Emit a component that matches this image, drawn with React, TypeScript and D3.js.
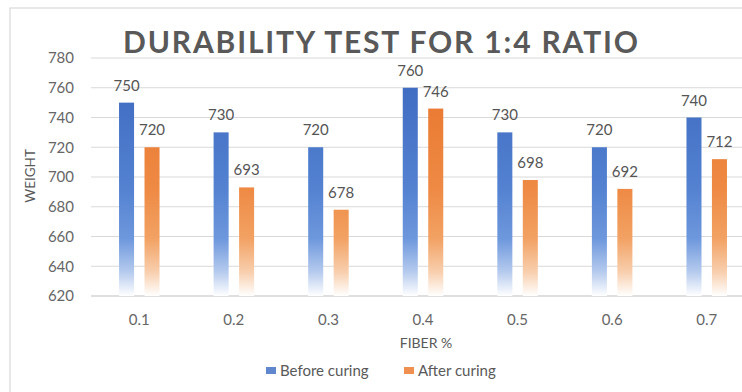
import React from "react";
import * as d3 from "d3";

const categories = ["0.1", "0.2", "0.3", "0.4", "0.5", "0.6", "0.7"];
const seriesNames = ["Before curing", "After curing"];
const beforeCuring = [750, 730, 720, 760, 730, 720, 740];
const afterCuring = [720, 693, 678, 746, 698, 692, 712];
const yTicks = [620, 640, 660, 680, 700, 720, 740, 760, 780];

const W = 742;
const H = 392;
const FONT = "Lato, 'Open Sans', sans-serif";

export default function App() {
  const y = d3.scaleLinear().domain([620, 780]).range([296, 58]);
  const x0 = d3.scaleBand<string>().domain(categories).range([92, 754]).padding(0);
  const bw = x0.bandwidth();
  const groupW = 40.5;
  const x1 = d3
    .scaleBand<number>()
    .domain([0, 1])
    .range([(bw - groupW) / 2, (bw + groupW) / 2])
    .paddingInner(0.41);
  const series = [beforeCuring, afterCuring];
  const gradIds = ["gBlue", "gOrange"];
  const legendColors = ["#4472C4", "#ED7D31"];

  return (
    <svg
      width={W}
      height={H}
      style={{ position: "absolute", left: 0, top: 0, background: "#fff" }}
      fontFamily={FONT}
    >
      <defs>
        <linearGradient id="gBlue" gradientUnits="userSpaceOnUse" x1="0" y1={y(780)} x2="0" y2={y(620)}>
          <stop offset="0" stopColor="#3A66BD" />
          <stop offset="0.55" stopColor="#5482D1" />
          <stop offset="0.76" stopColor="#6E98DD" />
          <stop offset="0.9" stopColor="#B6CBEE" />
          <stop offset="1" stopColor="#FFFFFF" />
        </linearGradient>
        <linearGradient id="gOrange" gradientUnits="userSpaceOnUse" x1="0" y1={y(780)} x2="0" y2={y(620)}>
          <stop offset="0" stopColor="#E8722A" />
          <stop offset="0.55" stopColor="#EE8A44" />
          <stop offset="0.76" stopColor="#F2A264" />
          <stop offset="0.9" stopColor="#F8CFAE" />
          <stop offset="1" stopColor="#FFFFFF" />
        </linearGradient>
      </defs>

      {/* frame */}
      <rect x={10} y={8} width={W + 10} height={H + 10} fill="none" stroke="#D9D9D9" strokeWidth={1.2} />

      {/* gridlines */}
      {yTicks.map((t) => (
        <line
          key={t}
          x1={91}
          x2={W}
          y1={y(t)}
          y2={y(t)}
          stroke={t === 620 ? "#BFBFBF" : "#D9D9D9"}
          strokeWidth={1.2}
        />
      ))}

      {/* y tick labels */}
      {yTicks.map((t) => (
        <text key={t} x={74} y={y(t)} dy="0.35em" textAnchor="end" fontSize={15} fill="#666666">
          {t}
        </text>
      ))}

      {/* title */}
      <text
        x={123}
        y={53}
        textAnchor="start"
        fontSize={30}
        fontWeight={700}
        fill="#595959"
        textLength={515}
        lengthAdjust="spacing"
      >
        DURABILITY TEST FOR 1:4 RATIO
      </text>

      {/* y axis title */}
      <text
        transform={`translate(35,176) rotate(-90)`}
        textAnchor="middle"
        fontSize={13.5}
        fill="#595959"
      >
        WEIGHT
      </text>

      {/* bars */}
      {categories.map((c, i) => (
        <g key={c} transform={`translate(${x0(c)},0)`}>
          {series.map((s, si) => {
            const bx = x1(si)!;
            const bwid = x1.bandwidth();
            return (
              <g key={si}>
                <rect x={bx} y={y(s[i])} width={bwid} height={y(620) - y(s[i])} fill={`url(#${gradIds[si]})`} />
                <text x={bx + bwid / 2} y={y(s[i]) - 12} textAnchor="middle" fontSize={15} fill="#555555">
                  {s[i]}
                </text>
              </g>
            );
          })}
          <text x={bw / 2} y={325} textAnchor="middle" fontSize={15} fill="#666666">
            {c}
          </text>
        </g>
      ))}

      {/* x axis title */}
      <text x={426} y={348} textAnchor="middle" fontSize={14} fill="#595959">
        FIBER %
      </text>

      {/* legend */}
      {seriesNames.map((n, i) => {
        const lx = i === 0 ? 266 : 404;
        return (
          <g key={n}>
            <rect x={lx} y={367} width={10} height={7} fill={legendColors[i]} opacity={0.85} />
            <text x={lx + 14} y={376} fontSize={15} fill="#595959">
              {n}
            </text>
          </g>
        );
      })}
    </svg>
  );
}
